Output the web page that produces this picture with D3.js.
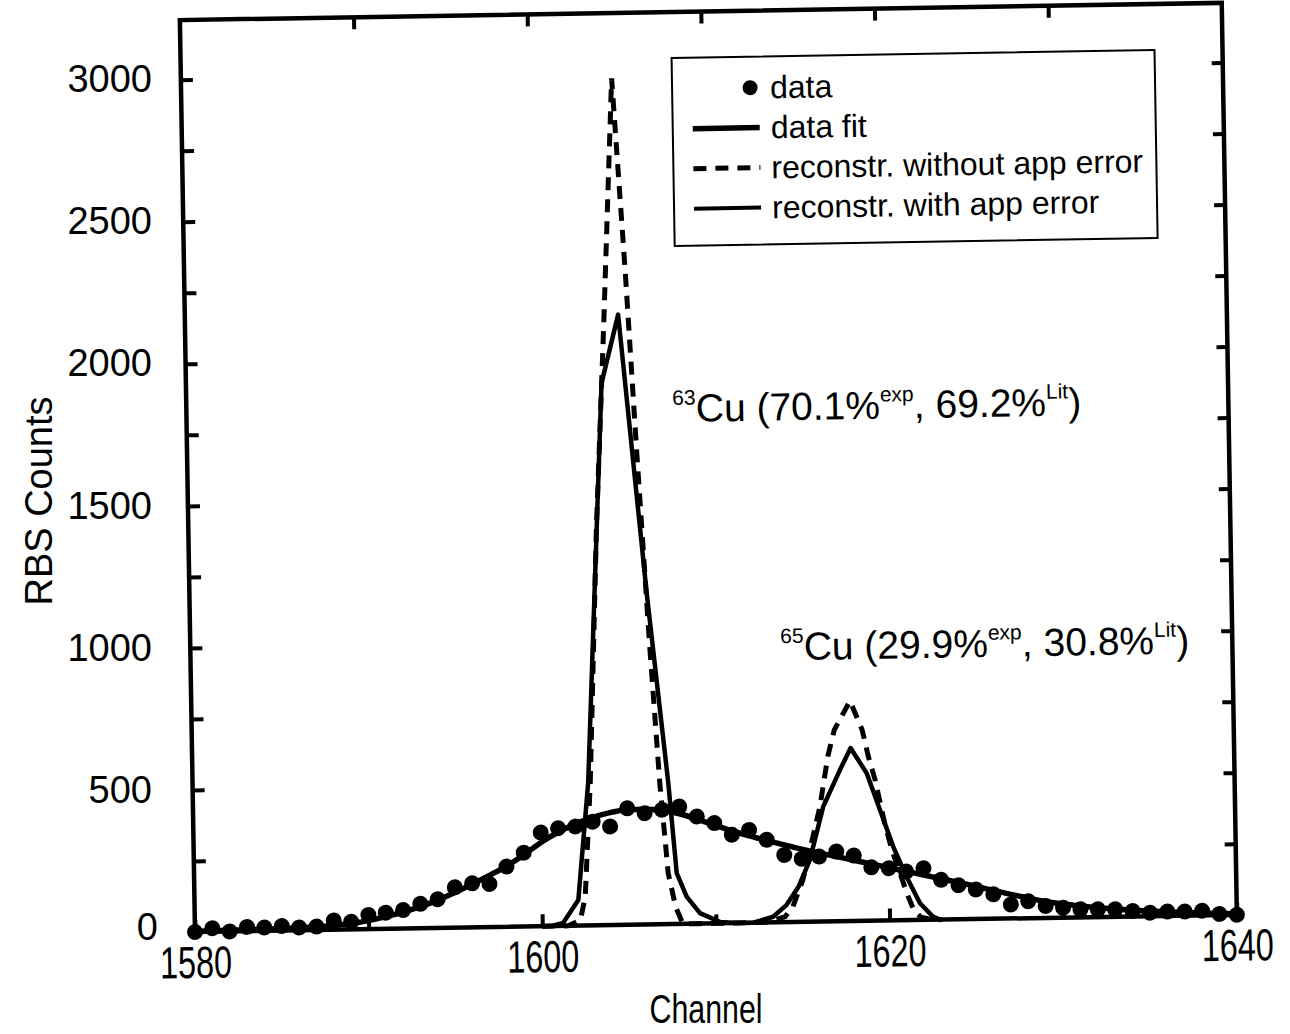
<!DOCTYPE html>
<html>
<head>
<meta charset="utf-8">
<script src="https://cdn.jsdelivr.net/npm/d3@7"></script>
<style>
  html, body { margin: 0; padding: 0; background: #fff; }
  svg { display: block; }
  text { font-family: "Liberation Sans", Arial, Helvetica, sans-serif; fill: #000; }
</style>
</head>
<body>
<svg id="chart" width="1290" height="1034"></svg>
<script>
// ---------------- data ----------------
const channels = [1580,1581,1582,1583,1584,1585,1586,1587,1588,1589,
                  1590,1591,1592,1593,1594,1595,1596,1597,1598,1599,
                  1600,1601,1602,1603,1604,1605,1606,1607,1608,1609,
                  1610,1611,1612,1613,1614,1615,1616,1617,1618,1619,
                  1620,1621,1622,1623,1624,1625,1626,1627,1628,1629,
                  1630,1631,1632,1633,1634,1635,1636,1637,1638,1639,1640];
const dataCounts = [0,12,0,15,12,16,10,12,32,27,
                    50,57,65,86,101,142,155,152,212,260,
                    330,344,349,365,347,410,392,403,413,377,
                    353,311,327,291,237,222,229,246,231,188,
                    184,171,182,140,120,104,86,49,60,42,
                    35,28,27,26,19,12,15,14,16,4,0];
const fitCounts = [2,3,4,5,6,7,9,11,15,21,
                   30,43,58,76,98,124,152,182,214,252,
                   295,330,358,380,396,405,406,400,388,368,
                   346,325,306,289,272,256,242,228,214,200,
                   186,172,158,144,130,115,100,85,71,58,
                   48,40,33,27,22,18,14,11,8,5,3];
// reconstruction without apparatus error (dashed)
const recNoErrChannel = [1600,1601.5,1602.2,1602.5,1602.9,1603.5,1604.1,1604.8,1605.4,1605.9,
                         1606.45,1606.9,1607.3,1607.7,1608.1,1609,1610,1611,1612,1613,
                         1614,1614.45,1615.05,1616.1,1616.6,1617.0,1617.93,1618.6,1618.93,1619.3,
                         1619.83,1620.2,1620.65,1621.1,1621.4,1621.8,1622.5,1623];
const recNoErrCounts = [0,0,20,100,503,1404,2100,2980,2300,1650,
                        980,499,180,60,0,0,0,0,0,2,
                        20,55,148,405,581,674,775,673,579,496,
                        337,249,164,83,36,10,0,0];
// reconstruction with apparatus error (solid)
const recErrChannel = [1600,1600.5,1601.2,1602.1,1602.78,1603.93,1604.95,1606.33,1607.39,1607.79,
                       1608.34,1609.09,1610.23,1611.2,1612.15,1613.3,1614.09,1614.8,1615.47,1616.29,
                       1617.29,1617.92,1618.82,1619.55,1620.28,1621.02,1621.77,1622.5,1622.9,1623];
const recErrCounts = [0,0,10,90,503,1908,2148,1166,498,179,
                      96,37,5,0,0,20,61,125,218,405,
                      533,609,520,390,260,153,59,11,0,0];

const xLabelTicks = [1580,1600,1620,1640];
const xMinorTicks = [1590,1610,1630];
const xTopTicks = [1590,1600,1610,1620,1630];
const yLabelTicks = [0,500,1000,1500,2000,2500,3000];
const yAllTicks = [250,500,750,1000,1250,1500,1750,2000,2250,2500,2750,3000];
const legendLabels = ["data","data fit","reconstr. without app error","reconstr. with app error"];
const annotation1 = {iso:"63", exp:"70.1%", lit:"69.2%"};
const annotation2 = {iso:"65", exp:"29.9%", lit:"30.8%"};
const xTitle = "Channel";
const yTitle = "RBS Counts";

// ---------------- layout ----------------
const L = 195, R = 1237, T = 20, B = 932;
const svg = d3.select("#chart");
svg.append("rect").attr("width",1290).attr("height",1034).attr("fill","#fff");

const x = d3.scaleLinear().domain([1580,1640]).range([L,R]);
const y = d3.scaleLinear().domain([0,3210]).range([B,T]);

// the scanned figure is slightly rotated
const g = svg.append("g").attr("transform", `rotate(-0.95,${L},${B})`);

// ---- curves ----
const lineFit = d3.line().x(d => x(d[0])).y(d => y(d[1])).curve(d3.curveMonotoneX);
const lineLin = d3.line().x(d => x(d[0])).y(d => y(d[1]));

g.append("path")
  .datum(d3.zip(recNoErrChannel, recNoErrCounts))
  .attr("d", lineLin).attr("fill","none").attr("stroke","#000")
  .attr("stroke-width",5).attr("stroke-dasharray","13,9");

g.append("path")
  .datum(d3.zip(recErrChannel, recErrCounts))
  .attr("d", lineLin).attr("fill","none").attr("stroke","#000")
  .attr("stroke-width",4.5).attr("stroke-linejoin","round");

g.append("path")
  .datum(d3.zip(channels, fitCounts))
  .attr("d", lineFit).attr("fill","none").attr("stroke","#000")
  .attr("stroke-width",5.5);

g.append("g").selectAll("circle")
  .data(d3.zip(channels, dataCounts))
  .join("circle")
  .attr("cx", d => x(d[0])).attr("cy", d => y(d[1]))
  .attr("r", 8).attr("fill","#000");

// ---- frame ----
g.append("rect").attr("x",L).attr("y",T).attr("width",R-L).attr("height",B-T)
  .attr("fill","none").attr("stroke","#000").attr("stroke-width",4.5);

function styleAxis(sel){
  sel.select(".domain").remove();
  sel.selectAll(".tick line").attr("stroke","#000").attr("stroke-width",4);
}

// bottom axis: labelled majors
const xAxisMajor = g.append("g").attr("transform",`translate(0,${B})`)
  .call(d3.axisBottom(x).tickValues(xLabelTicks).tickSize(-12).tickPadding(0).tickFormat(d3.format("d")));
styleAxis(xAxisMajor);
xAxisMajor.selectAll(".tick text")
  .attr("y",0).attr("dy",null)
  .attr("transform","translate(0,46) scale(0.72,1)")
  .attr("font-size",45).attr("font-family",'"Liberation Sans", Arial, sans-serif');

// bottom minor ticks
const xAxisMinor = g.append("g").attr("transform",`translate(0,${B})`)
  .call(d3.axisBottom(x).tickValues(xMinorTicks).tickSize(-9).tickFormat(""));
styleAxis(xAxisMinor);

// top ticks
const xAxisTop = g.append("g").attr("transform",`translate(0,${T})`)
  .call(d3.axisTop(x).tickValues(xTopTicks).tickSize(-12).tickFormat(""));
styleAxis(xAxisTop);

// left ticks
const yAxisTicks = g.append("g").attr("transform",`translate(${L},0)`)
  .call(d3.axisLeft(y).tickValues(yAllTicks).tickSize(-12).tickFormat(""));
styleAxis(yAxisTicks);

// right ticks
const yAxisRight = g.append("g").attr("transform",`translate(${R},0)`)
  .call(d3.axisRight(y).tickValues(yAllTicks).tickSize(-11).tickFormat(""));
styleAxis(yAxisRight);

// ---- legend ----
const lg = g.append("g");
const lgX = 686, lgY = 66, lgW = 483, lgH = 188;
lg.append("rect").attr("x",lgX).attr("y",lgY).attr("width",lgW).attr("height",lgH)
  .attr("fill","#fff").attr("stroke","#000").attr("stroke-width",2);
const rowY = [97,137,177,217];
lg.append("circle").attr("cx",764).attr("cy",rowY[0]).attr("r",7.5).attr("fill","#000");
lg.append("line").attr("x1",706).attr("x2",773).attr("y1",rowY[1]).attr("y2",rowY[1])
  .attr("stroke","#000").attr("stroke-width",5.5);
lg.append("line").attr("x1",706).attr("x2",773).attr("y1",rowY[2]).attr("y2",rowY[2])
  .attr("stroke","#000").attr("stroke-width",5).attr("stroke-dasharray","13,9");
lg.append("line").attr("x1",706).attr("x2",773).attr("y1",rowY[3]).attr("y2",rowY[3])
  .attr("stroke","#000").attr("stroke-width",4);
lg.selectAll("text.lgt").data(legendLabels).join("text")
  .attr("class","lgt")
  .attr("x",784).attr("y",(d,i) => rowY[i] + 11)
  .attr("font-size",32).text(d => d);

// ---- annotations ----
function annotate(ax, ay, a){
  const t = g.append("text").attr("x",ax).attr("y",ay).attr("font-size",39);
  t.append("tspan").attr("font-size",21).attr("dy",-17).text(a.iso);
  t.append("tspan").attr("dy",17).text("Cu (" + a.exp);
  t.append("tspan").attr("font-size",21).attr("dy",-17).text("exp");
  t.append("tspan").attr("dy",17).text(", " + a.lit);
  t.append("tspan").attr("font-size",21).attr("dy",-17).text("Lit");
  t.append("tspan").attr("dy",17).text(")");
}
annotate(681, 430, annotation1);
annotate(785, 670, annotation2);

// ---- y tick labels (unrotated column) ----
const yLab = svg.append("g").attr("transform","translate(152,0)")
  .call(d3.axisLeft(y).tickValues(yLabelTicks).tickSize(0).tickPadding(0).tickFormat(d3.format("d")));
yLab.select(".domain").remove();
yLab.selectAll(".tick text").attr("font-size",38)
  .attr("font-family",'"Liberation Sans", Arial, sans-serif')
  .attr("x", d => d === 0 ? 6 : 0)
  .attr("dy", d => d === 0 ? "0.2em" : "0.32em");

// ---- axis titles ----
svg.append("text").attr("transform","translate(706,1023) scale(0.74,1)")
  .attr("text-anchor","middle").attr("font-size",41).text(xTitle);
svg.append("text").attr("transform","translate(52,501) rotate(-90)")
  .attr("text-anchor","middle").attr("font-size",38).text(yTitle);
</script>
</body>
</html>
